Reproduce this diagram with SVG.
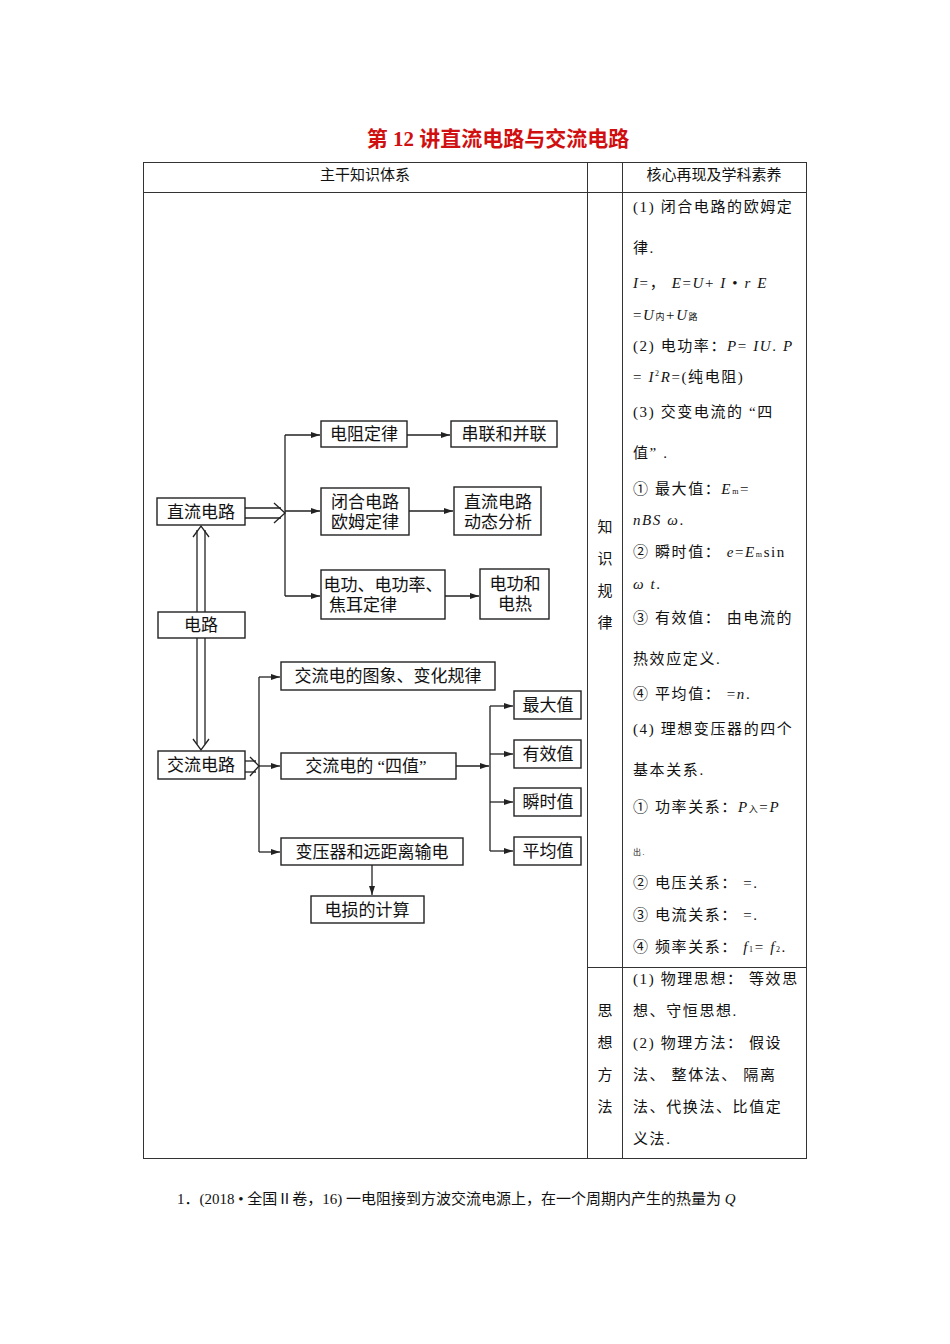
<svg xmlns="http://www.w3.org/2000/svg" width="950" height="1344" viewBox="0 0 950 1344">
<style>
text{font-family:"Liberation Serif","Noto Sans CJK SC",serif;fill:#111}
.b rect{fill:#fff;stroke:#222;stroke-width:1.4}
.n{font-size:17px;text-anchor:middle}
.t{font-size:15px}
.r{font-size:15px;letter-spacing:1.6px}
.i{font-style:italic}
.c path,.c line{fill:none;stroke:#222;stroke-width:1.3}
.tb line,.tb rect{stroke:#333;stroke-width:1;fill:none}
</style>
<defs><marker id="a" markerWidth="10" markerHeight="8" refX="9" refY="4" orient="auto" markerUnits="userSpaceOnUse"><path d="M0,1 L9,4 L0,7 Z" fill="#222"/></marker></defs>
<rect width="950" height="1344" fill="#fff"/>
<text x="498" y="146" font-size="21" font-weight="bold" text-anchor="middle" style="fill:#d01010">第 12 讲直流电路与交流电路</text>
<g class="tb">
<rect x="143.500" y="162.500" width="663" height="996"/>
<line x1="143" y1="192.500" x2="806" y2="192.500"/>
<line x1="587.500" y1="162" x2="587.500" y2="1158"/>
<line x1="622.500" y1="162" x2="622.500" y2="1158"/>
<line x1="587" y1="967.500" x2="806" y2="967.500"/>
</g>
<text x="365" y="180" class="t" text-anchor="middle">主干知识体系</text>
<text x="714" y="180" class="t" text-anchor="middle">核心再现及学科素养</text>
<g class="t" text-anchor="middle">
<text x="605" y="532">知</text><text x="605" y="564">识</text><text x="605" y="596">规</text><text x="605" y="628">律</text>
<text x="605" y="1016">思</text><text x="605" y="1048">想</text><text x="605" y="1080">方</text><text x="605" y="1112">法</text>
</g>
<g class="r">
<text x="633" y="212">(1) 闭合电路的欧姆定</text>
<text x="633" y="253">律.</text>
<text x="633" y="288"><tspan class="i">I</tspan>=， <tspan class="i">E</tspan>=<tspan class="i">U</tspan>+ <tspan class="i">I</tspan> • <tspan class="i">r</tspan>    <tspan class="i">E</tspan></text>
<text x="633" y="320">=<tspan class="i">U</tspan><tspan font-size="9">内</tspan>+<tspan class="i">U</tspan><tspan font-size="9">路</tspan></text>
<text x="633" y="351">(2) 电功率：<tspan class="i">P</tspan>= <tspan class="i">IU</tspan>. <tspan class="i">P</tspan></text>
<text x="633" y="382">= <tspan class="i">I</tspan><tspan font-size="8" dy="-6">2</tspan><tspan class="i" dy="6">R</tspan>=(纯电阻)</text>
<text x="633" y="417">(3) 交变电流的 “四</text>
<text x="633" y="458">值” .</text>
<text x="633" y="494">① 最大值：<tspan class="i">E</tspan><tspan font-size="8">m</tspan>=</text>
<text x="633" y="525"><tspan class="i">nBS ω</tspan>.</text>
<text x="633" y="557">② 瞬时值： <tspan class="i">e</tspan>=<tspan class="i">E</tspan><tspan font-size="8">m</tspan>sin</text>
<text x="633" y="589"> <tspan class="i">ω t</tspan>.</text>
<text x="633" y="623">③ 有效值： 由电流的</text>
<text x="633" y="664">热效应定义.</text>
<text x="633" y="699">④ 平均值： =<tspan class="i">n</tspan>.</text>
<text x="633" y="734">(4) 理想变压器的四个</text>
<text x="633" y="775">基本关系.</text>
<text x="633" y="812">① 功率关系：<tspan class="i">P</tspan><tspan font-size="9">入</tspan>=<tspan class="i">P</tspan></text>
<text x="633" y="855" font-size="8">出.</text>
<text x="633" y="888">② 电压关系： =.</text>
<text x="633" y="920">③ 电流关系： =.</text>
<text x="633" y="952">④ 频率关系： <tspan class="i">f</tspan><tspan font-size="8">1</tspan>= <tspan class="i">f</tspan><tspan font-size="8">2</tspan>.</text>
<text x="633" y="984">(1) 物理思想： 等效思</text>
<text x="633" y="1016">想、守恒思想.</text>
<text x="633" y="1048">(2) 物理方法： 假设</text>
<text x="633" y="1080">法、 整体法、 隔离</text>
<text x="633" y="1112">法、代换法、比值定</text>
<text x="633" y="1144">义法.</text>
</g>
<g class="c">
<line x1="245" y1="508" x2="281" y2="508"/><line x1="245" y1="518" x2="281" y2="518"/>
<path d="M274,503 L285,513 L274,523"/>
<line x1="285" y1="435" x2="285" y2="596"/>
<line x1="285" y1="435" x2="320" y2="435" marker-end="url(#a)"/>
<line x1="285" y1="511" x2="320" y2="511" marker-end="url(#a)"/>
<line x1="285" y1="596" x2="320" y2="596" marker-end="url(#a)"/>
<line x1="407" y1="435" x2="450" y2="435" marker-end="url(#a)"/>
<line x1="409" y1="511" x2="453" y2="511" marker-end="url(#a)"/>
<line x1="445" y1="596" x2="479" y2="596" marker-end="url(#a)"/>
<line x1="197" y1="530" x2="197" y2="612"/><line x1="205" y1="530" x2="205" y2="612"/>
<path d="M193,537 L201,526 L209,537"/>
<line x1="197" y1="638" x2="197" y2="744"/><line x1="205" y1="638" x2="205" y2="744"/>
<path d="M193,739 L201,750 L209,739"/>
<line x1="245" y1="761" x2="256" y2="761"/><line x1="245" y1="772" x2="256" y2="772"/>
<path d="M250,757 L259,766 L250,776"/>
<line x1="259" y1="677" x2="259" y2="852"/>
<line x1="259" y1="677" x2="280" y2="677" marker-end="url(#a)"/>
<line x1="259" y1="766" x2="280" y2="766" marker-end="url(#a)"/>
<line x1="259" y1="852" x2="280" y2="852" marker-end="url(#a)"/>
<line x1="456" y1="766" x2="489" y2="766" marker-end="url(#a)"/>
<line x1="490" y1="706" x2="490" y2="851"/>
<line x1="490" y1="706" x2="513" y2="706" marker-end="url(#a)"/>
<line x1="490" y1="754" x2="513" y2="754" marker-end="url(#a)"/>
<line x1="490" y1="802" x2="513" y2="802" marker-end="url(#a)"/>
<line x1="490" y1="851" x2="513" y2="851" marker-end="url(#a)"/>
<line x1="372" y1="865" x2="372" y2="895" marker-end="url(#a)"/>
</g>
<g class="b">
<g id="n1"><rect x="157" y="498" width="88" height="27"/><text class="n" x="201" y="518">直流电路</text></g>
<g id="n2"><rect x="158" y="612" width="87" height="26"/><text class="n" x="201" y="631">电路</text></g>
<g id="n3"><rect x="158" y="751" width="87" height="28"/><text class="n" x="201" y="771">交流电路</text></g>
<g id="n4"><rect x="321" y="421" width="86" height="26"/><text class="n" x="364" y="440">电阻定律</text></g>
<g id="n5"><rect x="451" y="421" width="106" height="26"/><text class="n" x="504" y="440">串联和并联</text></g>
<g id="n6"><rect x="321" y="488" width="88" height="47"/><text class="n" x="365" y="508">闭合电路</text><text class="n" x="365" y="528">欧姆定律</text></g>
<g id="n7"><rect x="454" y="487" width="87" height="48"/><text class="n" x="498" y="508">直流电路</text><text class="n" x="498" y="528">动态分析</text></g>
<g id="n8"><rect x="321" y="570" width="124" height="49"/><text class="n" x="383" y="591">电功、电功率、</text><text class="n" x="363" y="611">焦耳定律</text></g>
<g id="n9"><rect x="480" y="569" width="69" height="50"/><text class="n" x="515" y="590">电功和</text><text class="n" x="515" y="610">电热</text></g>
<g id="n10"><rect x="281" y="662" width="214" height="28"/><text class="n" x="388" y="682">交流电的图象、变化规律</text></g>
<g id="n11"><rect x="281" y="753" width="175" height="26"/><text class="n" x="366" y="772">交流电的 “四值”</text></g>
<g id="n12"><rect x="281" y="838" width="182" height="27"/><text class="n" x="372" y="858">变压器和远距离输电</text></g>
<g id="n13"><rect x="311" y="896" width="113" height="27"/><text class="n" x="367" y="916">电损的计算</text></g>
<g id="n14"><rect x="514" y="691" width="67" height="28"/><text class="n" x="548" y="711">最大值</text></g>
<g id="n15"><rect x="514" y="740" width="67" height="28"/><text class="n" x="548" y="760">有效值</text></g>
<g id="n16"><rect x="514" y="788" width="67" height="28"/><text class="n" x="548" y="808">瞬时值</text></g>
<g id="n17"><rect x="514" y="837" width="67" height="28"/><text class="n" x="548" y="857">平均值</text></g>
</g>
<text x="177" y="1204" class="t">1．(2018 • 全国Ⅱ卷，16) 一电阻接到方波交流电源上，在一个周期内产生的热量为 <tspan class="i">Q</tspan></text>
</svg>
